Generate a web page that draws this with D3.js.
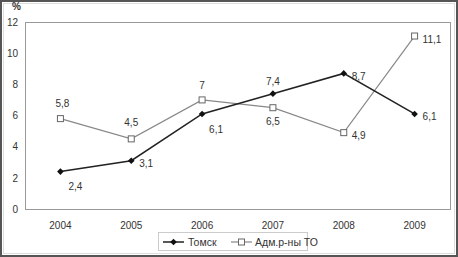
<!DOCTYPE html>
<html>
<head>
<meta charset="utf-8">
<script src="https://cdn.jsdelivr.net/npm/d3@7"></script>
<style>
  body { margin: 0; background: #fff; }
  svg { display: block; font-family: Arial, "Liberation Sans", sans-serif; }
</style>
</head>
<body>
<svg id="chart" width="458" height="257"></svg>
<script>
// --- data ---
const years = ["2004", "2005", "2006", "2007", "2008", "2009"];
const tomsk = [2.4, 3.1, 6.1, 7.4, 8.7, 6.1];
const districts = [5.8, 4.5, 7, 6.5, 4.9, 11.1];
const yTicks = [0, 2, 4, 6, 8, 10, 12];
// label placement per point: [dx, dy]
const tomskLabelPos = [[8, 15], [8, 3], [7, 16], [0, -12], [8, 3], [8, 3]];
const distLabelPos = [[2, -15], [0, -16], [0, -14], [0, 14], [8, 3], [8, 3]];

// --- setup ---
const svg = d3.select("#chart");
const margin = { top: 22, right: 8, bottom: 48, left: 25 };
const width = 458 - margin.left - margin.right;
const height = 257 - margin.top - margin.bottom;

// outer frame
svg.append("rect")
    .attr("x", 1).attr("y", 1)
    .attr("width", 456).attr("height", 255)
    .attr("fill", "none")
    .attr("stroke", "#555")
    .attr("stroke-width", 2);
svg.append("rect")
    .attr("x", 3.5).attr("y", 3.5)
    .attr("width", 451).attr("height", 250)
    .attr("fill", "none")
    .attr("stroke", "#ddd")
    .attr("stroke-width", 1);

const g = svg.append("g")
    .attr("transform", `translate(${margin.left},${margin.top})`);

// --- scales ---
const x = d3.scaleBand().domain(years).range([0, width]).padding(0);
const y = d3.scaleLinear().domain([0, 12]).range([height, 0]);
const cx = d => x(d) + x.bandwidth() / 2;

// plot area border
g.append("rect")
    .attr("x", 0.5).attr("y", 0.5)
    .attr("width", width).attr("height", height)
    .attr("fill", "none")
    .attr("stroke", "#999")
    .attr("stroke-width", 1);

// --- axes ---
const yAxis = g.append("g")
    .call(d3.axisLeft(y).tickValues(yTicks).tickSize(0).tickPadding(7));
yAxis.select(".domain").remove();
yAxis.selectAll("text").style("font-size", "10px").attr("fill", "#333")
    .style("font-family", "Arial, 'Liberation Sans', sans-serif");

const xAxis = g.append("g")
    .attr("transform", `translate(0,${height})`)
    .call(d3.axisBottom(x).tickSize(0).tickPadding(13));
xAxis.select(".domain").remove();
xAxis.selectAll("text").style("font-size", "10px").attr("fill", "#333")
    .style("font-family", "Arial, 'Liberation Sans', sans-serif");

g.append("text")
    .attr("x", -13).attr("y", -12)
    .attr("font-size", 10).attr("font-weight", "bold").attr("fill", "#333")
    .text("%");

// --- lines ---
const line = d3.line().x((d, i) => cx(years[i])).y(d => y(d));

g.append("path").datum(districts)
    .attr("d", line)
    .attr("fill", "none").attr("stroke", "#888").attr("stroke-width", 1.2);

g.append("path").datum(tomsk)
    .attr("d", line)
    .attr("fill", "none").attr("stroke", "#222").attr("stroke-width", 1.5);

// markers
g.selectAll(".sq").data(districts).join("rect")
    .attr("x", (d, i) => cx(years[i]) - 3)
    .attr("y", d => y(d) - 3)
    .attr("width", 6).attr("height", 6)
    .attr("fill", "#fff").attr("stroke", "#666").attr("stroke-width", 1);

// diamond = square rotated 45deg
const diamond = d3.symbol().type(d3.symbolSquare).size(22);
g.selectAll(".dm").data(tomsk).join("path")
    .attr("d", diamond)
    .attr("transform", (d, i) => `translate(${cx(years[i])},${y(d)}) rotate(45)`)
    .attr("fill", "#111");

// labels
const fmt = v => String(v).replace(".", ",");
function labels(data, pos) {
    g.append("g").selectAll("text").data(data).join("text")
        .attr("x", (d, i) => cx(years[i]) + pos[i][0])
        .attr("y", (d, i) => y(d) + pos[i][1])
        .attr("dy", "0.35em")
        .attr("text-anchor", (d, i) => pos[i][0] > 4 ? "start" : "middle")
        .attr("font-size", 10).attr("fill", "#333")
        .text(fmt);
}
labels(tomsk, tomskLabelPos);
labels(districts, distLabelPos);

// --- legend ---
const legend = svg.append("g").attr("transform", "translate(158,232)");
legend.append("rect")
    .attr("x", 0.5).attr("y", 0.5).attr("width", 149).attr("height", 18)
    .attr("fill", "#fff").attr("stroke", "#ccc");

legend.append("line").attr("x1", 5).attr("x2", 26).attr("y1", 10).attr("y2", 10)
    .attr("stroke", "#222").attr("stroke-width", 1.5);
legend.append("path").attr("d", diamond).attr("transform", "translate(15.5,10) rotate(45)").attr("fill", "#111");
legend.append("text").attr("x", 30).attr("y", 10).attr("dy", "0.35em")
    .attr("font-size", 10.5).attr("fill", "#333").text("Томск");

legend.append("line").attr("x1", 73).attr("x2", 94).attr("y1", 10).attr("y2", 10)
    .attr("stroke", "#888").attr("stroke-width", 1.2);
legend.append("rect").attr("x", 80.5).attr("y", 7).attr("width", 6).attr("height", 6)
    .attr("fill", "#fff").attr("stroke", "#666");
legend.append("text").attr("x", 97).attr("y", 10).attr("dy", "0.35em")
    .attr("font-size", 10.5).attr("fill", "#333").text("Адм.р-ны ТО");
</script>
</body>
</html>
